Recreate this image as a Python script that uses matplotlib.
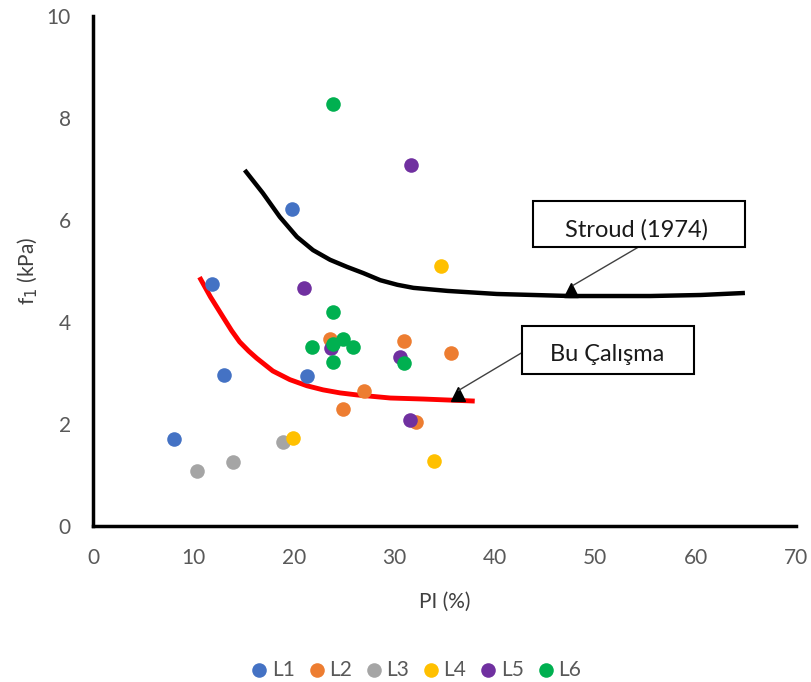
import matplotlib.pyplot as plt
from matplotlib.patches import Rectangle

plt.rcParams['font.family'] = ['Lato', 'DejaVu Sans']

# data
l1_x = [19.8, 11.8, 13.0, 8.1, 21.3]
l1_y = [6.22, 4.75, 2.96, 1.71, 2.94]
l2_x = [23.6, 31.0, 35.6, 27.0, 24.9, 32.2]
l2_y = [3.67, 3.62, 3.39, 2.64, 2.30, 2.04]
l3_x = [10.4, 13.9, 18.9]
l3_y = [1.08, 1.26, 1.64]
l4_x = [34.6, 19.9, 33.9]
l4_y = [5.10, 1.73, 1.28]
l5_x = [31.7, 21.0, 23.7, 30.6, 31.6]
l5_y = [7.08, 4.67, 3.50, 3.32, 2.08]
l6_x = [23.9, 23.9, 21.8, 24.9, 25.9, 23.9, 23.9, 31.0]
l6_y = [8.27, 4.20, 3.52, 3.66, 3.52, 3.56, 3.22, 3.20]

stroud_x = [15.1, 16.9, 18.6, 20.3, 21.9, 23.6, 25.3, 26.9, 28.6, 30.3, 31.9, 35.3,
            40.2, 47.5, 55.5, 60.5, 64.9]
stroud_y = [6.98, 6.53, 6.06, 5.67, 5.41, 5.22, 5.08, 4.96, 4.82, 4.73, 4.67, 4.61,
            4.55, 4.51, 4.51, 4.53, 4.57]
bu_x = [10.6, 11.7, 13.0, 13.8, 14.6, 15.5, 16.3, 17.9, 19.6, 21.3, 22.9, 24.6, 26.3,
        29.6, 32.9, 38.0]
bu_y = [4.88, 4.49, 4.08, 3.83, 3.61, 3.43, 3.29, 3.04, 2.87, 2.75, 2.67, 2.61, 2.57,
        2.51, 2.49, 2.45]

series = [
    ('L1', l1_x, l1_y, '#4472C4'),
    ('L2', l2_x, l2_y, '#ED7D31'),
    ('L3', l3_x, l3_y, '#A5A5A5'),
    ('L4', l4_x, l4_y, '#FFC000'),
    ('L5', l5_x, l5_y, '#7030A0'),
    ('L6', l6_x, l6_y, '#00B050'),
]

fig = plt.figure(figsize=(8.11, 6.82), dpi=100)
ax = fig.add_axes([0.1147, 0.2287, 0.867, 0.7478])

for name, xs, ys, c in series:
    ax.scatter(xs, ys, s=110, color=c, label=name, zorder=3, linewidths=0)

ax.plot(stroud_x, stroud_y, color='black', lw=3.2, zorder=2,
        solid_capstyle='butt', solid_joinstyle='round')
ax.plot(bu_x, bu_y, color='red', lw=3.5, zorder=2,
        solid_capstyle='butt', solid_joinstyle='round')
ax.plot([47.6], [4.62], marker='^', color='black', ms=10, zorder=4)
ax.plot([36.3], [2.59], marker='^', color='black', ms=10, zorder=4)

# callout boxes
ax.add_patch(Rectangle((43.8, 5.47), 21.1, 0.90, fc='white', ec='black', lw=1.5, zorder=5))
ax.text(54.1, 5.80, 'Stroud (1974)', ha='center', va='center', fontsize=17,
        color='#1a1a1a', zorder=6)
ax.plot([54.3, 47.8], [5.47, 4.72], color='#404040', lw=1, zorder=4)

ax.add_patch(Rectangle((42.7, 2.98), 17.1, 0.94, fc='white', ec='black', lw=1.5, zorder=5))
ax.text(51.2, 3.36, 'Bu Çalışma', ha='center', va='center', fontsize=17,
        color='#1a1a1a', zorder=6)
ax.plot([42.7, 36.4], [3.40, 2.66], color='#404040', lw=1, zorder=4)

ax.set_xlim(0, 70)
ax.set_ylim(0, 10)
ax.set_xticks(range(0, 71, 10))
ax.set_yticks(range(0, 11, 2))
for s in ['top', 'right']:
    ax.spines[s].set_visible(False)
for s in ['left', 'bottom']:
    ax.spines[s].set_linewidth(2.5)
ax.tick_params(length=0, pad=16, labelsize=15, labelcolor='#595959')
ax.set_xlabel('PI (%)', fontsize=15, color='#404040', labelpad=17)
ax.set_ylabel('f$_1$ (kPa)', fontsize=15, color='#404040', labelpad=5)

ax.legend(loc='upper center', bbox_to_anchor=(0.46, -0.225), ncol=6, frameon=False,
          fontsize=15, handlelength=0.7, handletextpad=0.25, columnspacing=0.7,
          labelcolor='#595959')

fig.savefig('out.png', dpi=100)
